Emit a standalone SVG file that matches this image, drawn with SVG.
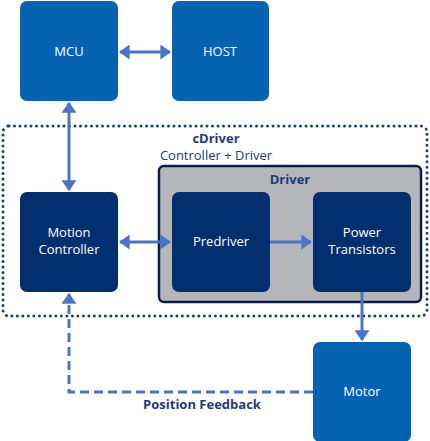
<svg xmlns="http://www.w3.org/2000/svg" width="430" height="441" viewBox="0 0 430 441">
<style>
.light{fill:#0563b2}
.dark{fill:#032f6e}
.t{font-family:"Open Sans",sans-serif;font-size:13px;fill:#ffffff;text-anchor:middle}
.lbl{font-family:"Open Sans",sans-serif;font-size:13px;fill:#1d3c78;text-anchor:middle}
.b{font-weight:bold}
.c{stroke:#4a74c6;stroke-width:3;fill:none}
</style>
<defs>
<marker id="ah" viewBox="0 0 10 14" refX="9" refY="7" markerWidth="3.6" markerHeight="5" orient="auto-start-reverse" markerUnits="strokeWidth">
<path d="M0,0 L10,7 L0,14 z" fill="#4a74c6"/>
</marker>
</defs>
<g id="cdriver">
<rect x="3" y="126" width="424" height="190" rx="6" fill="none" stroke="#1d3c78" stroke-width="3" stroke-dasharray="0 5.5" stroke-linecap="round"/>
<text class="lbl b" x="216" y="143">cDriver</text>
<text class="lbl" x="216" y="160">Controller + Driver</text>
</g>
<g id="driver">
<rect x="159" y="166" width="262" height="136" rx="5" fill="#b4b6b9" stroke="#0a1c4a" stroke-width="2.5"/>
<text class="lbl b" x="290" y="184">Driver</text>
</g>
<g id="mcu"><rect class="light" x="20" y="1" width="98" height="100" rx="7"/><text class="t" x="69" y="56">MCU</text></g>
<g id="host"><rect class="light" x="172" y="1" width="97" height="100" rx="7"/><text class="t" x="220" y="56">HOST</text></g>
<g id="motion"><rect class="dark" x="20" y="192" width="98" height="100" rx="7"/><text class="t" x="69" y="237">Motion</text><text class="t" x="69" y="254">Controller</text></g>
<g id="predriver"><rect class="dark" x="172" y="192" width="98" height="100" rx="7"/><text class="t" x="221" y="246">Predriver</text></g>
<g id="power"><rect class="dark" x="313" y="192" width="98" height="100" rx="7"/><text class="t" x="362" y="237">Power</text><text class="t" x="362" y="254">Transistors</text></g>
<g id="motor"><rect class="light" x="313" y="342" width="98" height="100" rx="7"/><text class="t" x="362" y="396">Motor</text></g>
<g id="connectors">
<line class="c" x1="120" y1="52" x2="170" y2="52" marker-start="url(#ah)" marker-end="url(#ah)"/>
<line class="c" x1="69" y1="103" x2="69" y2="190" marker-start="url(#ah)" marker-end="url(#ah)"/>
<line class="c" x1="120" y1="242" x2="170" y2="242" marker-start="url(#ah)" marker-end="url(#ah)"/>
<line class="c" x1="270" y1="242" x2="311" y2="242" marker-end="url(#ah)"/>
<line class="c" x1="362" y1="292" x2="362" y2="340" marker-end="url(#ah)"/>
<polyline class="c" points="313,392 69,392 69,294" stroke-dasharray="9 5" marker-end="url(#ah)"/>
<text class="lbl b" x="202" y="409">Position Feedback</text>
</g>
</svg>
